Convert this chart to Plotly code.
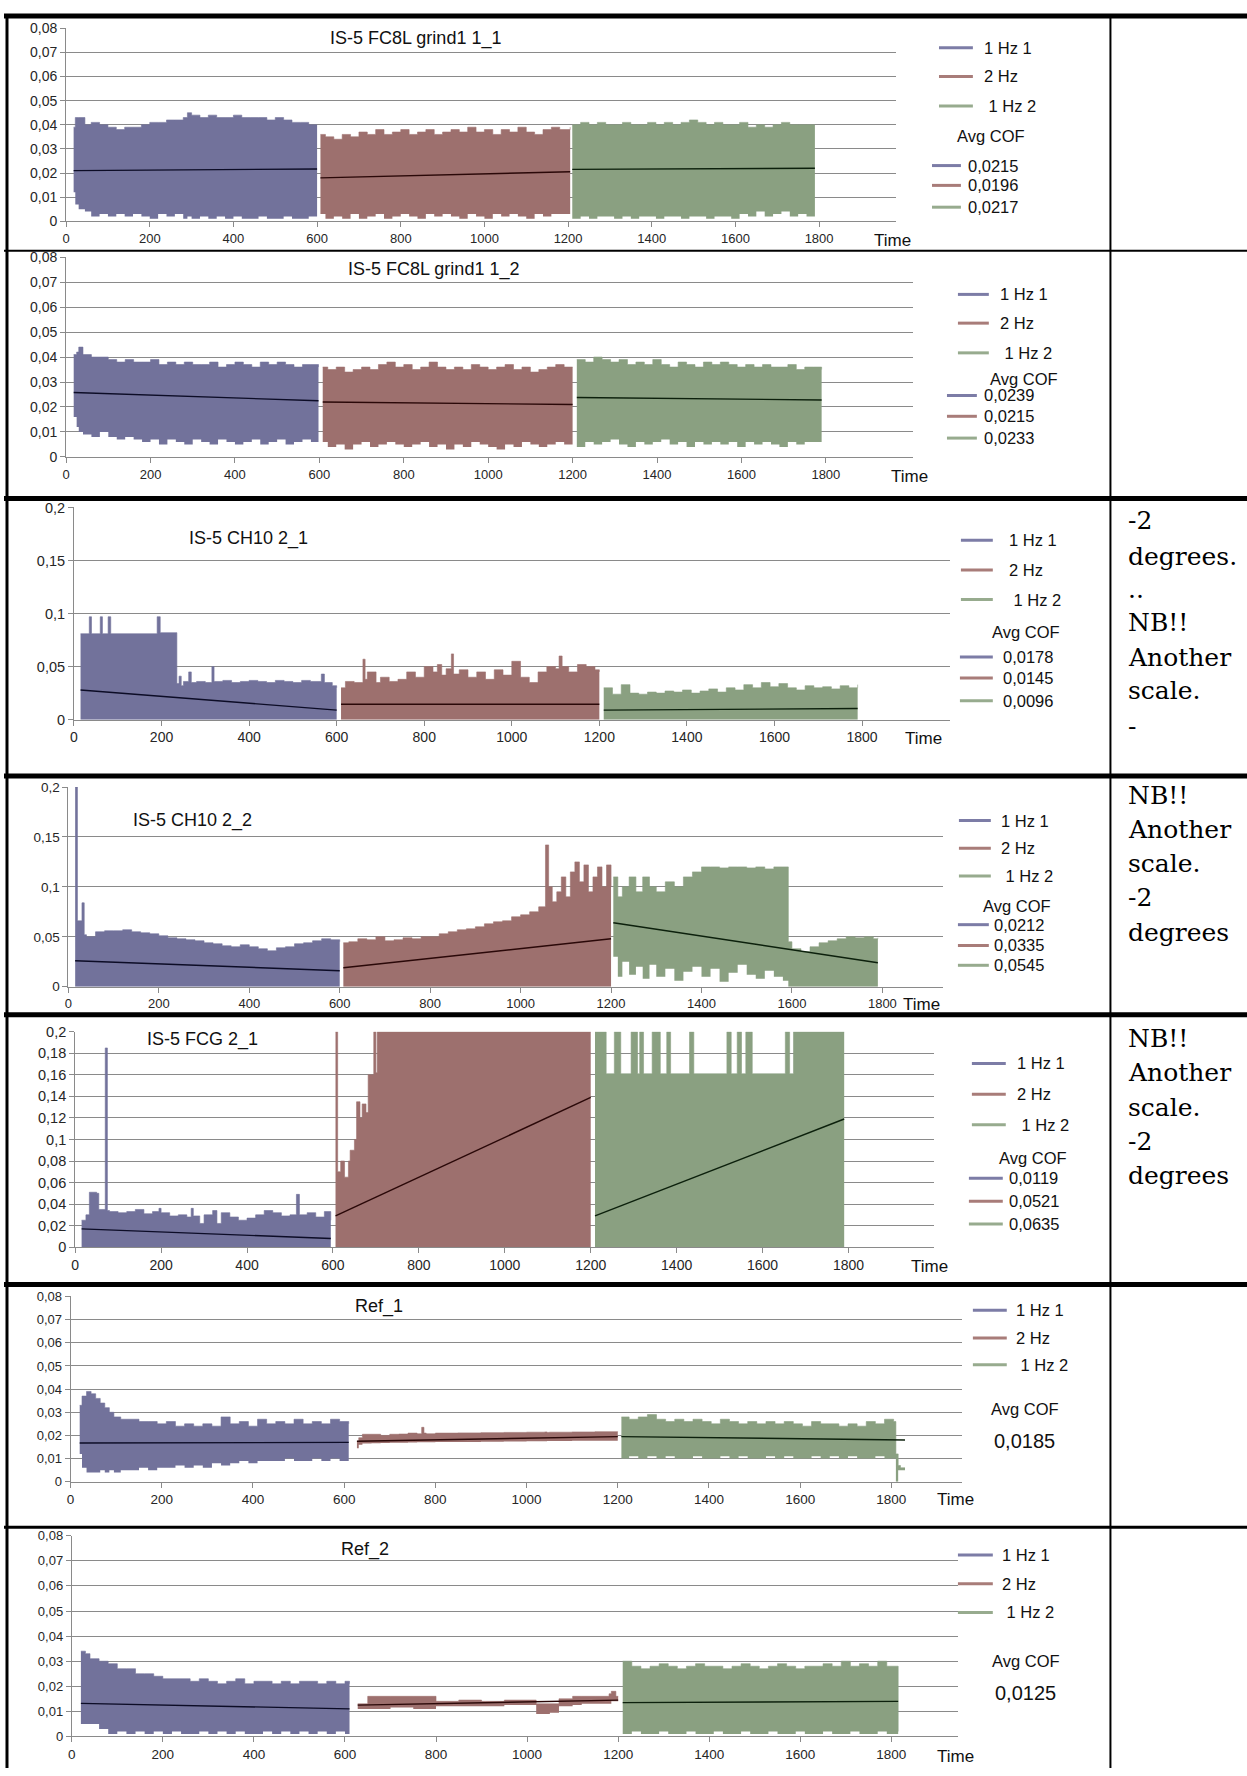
import plotly.graph_objects as go

W, H = 1247, 1776

# ------------------------------------------------------------------ data
X_TICKS = [0, 200, 400, 600, 800, 1000, 1200, 1400, 1600, 1800]
X_TEXT = ["0", "200", "400", "600", "800", "1000", "1200", "1400", "1600", "1800"]
Y08_TICKS = [0, 0.01, 0.02, 0.03, 0.04, 0.05, 0.06, 0.07, 0.08]
Y08_TEXT = ["0", "0,01", "0,02", "0,03", "0,04", "0,05", "0,06", "0,07", "0,08"]
Y20A_TICKS = [0, 0.05, 0.1, 0.15, 0.2]
Y20A_TEXT = ["0", "0,05", "0,1", "0,15", "0,2"]
Y20B_TICKS = [0, 0.02, 0.04, 0.06, 0.08, 0.1, 0.12, 0.14, 0.16, 0.18, 0.2]
Y20B_TEXT = ["0", "0,02", "0,04", "0,06", "0,08", "0,1", "0,12", "0,14", "0,16", "0,18", "0,2"]

SERIES_NAMES = ["1 Hz 1", "2 Hz", " 1 Hz 2"]
TITLES = ["IS-5 FC8L grind1 1_1", "IS-5 FC8L grind1 1_2", "IS-5 CH10 2_1",
          "IS-5 CH10 2_2", "IS-5 FCG 2_1", "Ref_1", "Ref_2"]
AVG_COF = [["0,0215", "0,0196", "0,0217"], ["0,0239", "0,0215", "0,0233"],
           ["0,0178", "0,0145", "0,0096"], ["0,0212", "0,0335", "0,0545"],
           ["0,0119", "0,0521", "0,0635"], ["0,0185"], ["0,0125"]]

# ---- Panel 1: IS-5 FC8L grind1 1_1
P1_B_T = [18, 22, 30, 45, 60, 80, 100, 120, 140, 160, 180, 200, 220, 240, 260, 280, 290, 300, 320, 340,
          360, 380, 400, 420, 440, 460, 480, 500, 520, 540, 560, 580, 600]
P1_B_HI = [0.039, 0.043, 0.043, 0.040, 0.041, 0.040, 0.039, 0.038, 0.039, 0.039, 0.040, 0.041, 0.041, 0.042,
           0.042, 0.043, 0.045, 0.044, 0.043, 0.044, 0.043, 0.043, 0.044, 0.043, 0.043, 0.043, 0.042, 0.043,
           0.042, 0.041, 0.041, 0.040, 0.040]
P1_B_LO = [0.012, 0.007, 0.005, 0.004, 0.002, 0.003, 0.002, 0.003, 0.002, 0.003, 0.002, 0.001, 0.003, 0.002,
           0.003, 0.001, 0.002, 0.001, 0.002, 0.001, 0.002, 0.001, 0.002, 0.001, 0.001, 0.002, 0.001, 0.001,
           0.002, 0.001, 0.001, 0.002, 0.001]
P1_R_T = [608, 620, 640, 660, 680, 700, 720, 740, 760, 780, 800, 820, 840, 860, 880, 900, 920, 940, 960, 980,
          1000, 1020, 1040, 1060, 1080, 1100, 1120, 1140, 1160, 1180, 1205]
P1_R_HI = [0.036, 0.035, 0.034, 0.036, 0.035, 0.037, 0.036, 0.038, 0.036, 0.037, 0.038, 0.036, 0.037, 0.038,
           0.036, 0.037, 0.038, 0.037, 0.039, 0.037, 0.038, 0.036, 0.038, 0.037, 0.039, 0.037, 0.036, 0.038,
           0.039, 0.038, 0.039]
P1_R_LO = [0.003, 0.001, 0.002, 0.001, 0.003, 0.001, 0.002, 0.003, 0.001, 0.002, 0.003, 0.002, 0.001, 0.003,
           0.002, 0.003, 0.002, 0.001, 0.003, 0.002, 0.001, 0.003, 0.002, 0.003, 0.002, 0.001, 0.003, 0.002,
           0.003, 0.003, 0.003]
P1_G_T = [1210, 1230, 1250, 1270, 1290, 1310, 1330, 1350, 1370, 1390, 1410, 1430, 1450, 1470, 1490, 1510,
          1530, 1550, 1570, 1590, 1610, 1630, 1650, 1670, 1690, 1710, 1730, 1750, 1770, 1790]
P1_G_HI = [0.040, 0.041, 0.040, 0.041, 0.040, 0.040, 0.041, 0.040, 0.040, 0.041, 0.040, 0.041, 0.040, 0.041,
           0.042, 0.041, 0.040, 0.041, 0.040, 0.040, 0.041, 0.039, 0.040, 0.039, 0.040, 0.041, 0.040, 0.040,
           0.040, 0.040]
P1_G_LO = [0.001, 0.002, 0.001, 0.002, 0.002, 0.001, 0.002, 0.001, 0.002, 0.002, 0.001, 0.002, 0.002, 0.001,
           0.002, 0.002, 0.001, 0.002, 0.002, 0.001, 0.003, 0.002, 0.004, 0.002, 0.003, 0.004, 0.002, 0.003,
           0.002, 0.002]
P1_TREND_START = [0.0210, 0.0180, 0.0215]
P1_TREND_END = [0.0217, 0.0205, 0.0220]

# ---- Panel 2: IS-5 FC8L grind1 1_2
P2_B_T = [18, 25, 30, 40, 60, 80, 100, 120, 140, 160, 180, 200, 220, 240, 260, 280, 300, 320, 340, 360,
          380, 400, 420, 440, 460, 480, 500, 520, 540, 560, 580, 598]
P2_B_HI = [0.041, 0.042, 0.044, 0.041, 0.040, 0.040, 0.039, 0.038, 0.039, 0.038, 0.038, 0.039, 0.037, 0.038,
           0.037, 0.038, 0.037, 0.037, 0.038, 0.036, 0.037, 0.038, 0.037, 0.036, 0.038, 0.037, 0.038, 0.037,
           0.036, 0.037, 0.037, 0.036]
P2_B_LO = [0.016, 0.012, 0.010, 0.009, 0.008, 0.010, 0.008, 0.007, 0.008, 0.007, 0.006, 0.007, 0.005, 0.007,
           0.006, 0.005, 0.007, 0.006, 0.005, 0.007, 0.006, 0.005, 0.006, 0.007, 0.005, 0.006, 0.007, 0.005,
           0.006, 0.007, 0.006, 0.006]
P2_R_T = [608, 620, 640, 660, 680, 700, 720, 740, 760, 780, 800, 820, 840, 860, 880, 900, 920, 940, 960, 980,
          1000, 1020, 1040, 1060, 1080, 1100, 1120, 1140, 1160, 1180, 1200]
P2_R_HI = [0.036, 0.035, 0.036, 0.034, 0.035, 0.036, 0.035, 0.037, 0.038, 0.036, 0.037, 0.035, 0.036, 0.038,
           0.036, 0.035, 0.036, 0.035, 0.037, 0.036, 0.035, 0.036, 0.037, 0.035, 0.036, 0.034, 0.035, 0.036,
           0.037, 0.036, 0.036]
P2_R_LO = [0.006, 0.004, 0.005, 0.003, 0.005, 0.006, 0.004, 0.005, 0.006, 0.005, 0.004, 0.005, 0.006, 0.004,
           0.005, 0.003, 0.005, 0.004, 0.006, 0.005, 0.004, 0.003, 0.005, 0.004, 0.006, 0.005, 0.004, 0.005,
           0.006, 0.005, 0.004]
P2_G_T = [1210, 1230, 1250, 1270, 1290, 1310, 1330, 1350, 1370, 1390, 1410, 1430, 1450, 1470, 1490, 1510,
          1530, 1550, 1570, 1590, 1610, 1630, 1650, 1670, 1690, 1710, 1730, 1750, 1770, 1790]
P2_G_HI = [0.039, 0.038, 0.040, 0.039, 0.038, 0.039, 0.037, 0.038, 0.037, 0.039, 0.037, 0.036, 0.038, 0.037,
           0.036, 0.038, 0.037, 0.038, 0.037, 0.036, 0.037, 0.036, 0.037, 0.036, 0.036, 0.037, 0.035, 0.036,
           0.036, 0.035]
P2_G_LO = [0.004, 0.006, 0.005, 0.006, 0.007, 0.005, 0.004, 0.006, 0.005, 0.006, 0.007, 0.005, 0.006, 0.004,
           0.006, 0.005, 0.006, 0.005, 0.006, 0.004, 0.006, 0.005, 0.006, 0.005, 0.004, 0.006, 0.005, 0.006,
           0.006, 0.006]
P2_TREND_START = [0.0258, 0.0220, 0.0238]
P2_TREND_END = [0.0225, 0.0210, 0.0228]

# ---- Panel 3: IS-5 CH10 2_1 (bands reach zero)
P3_B_T = [15, 35, 40, 60, 65, 78, 84, 190, 197, 235, 240, 245, 250, 262, 268, 280, 300, 315, 320, 340,
          360, 380, 400, 420, 440, 460, 480, 500, 520, 540, 565, 572, 590, 600]
P3_B_HI = [0.081, 0.097, 0.081, 0.097, 0.081, 0.097, 0.081, 0.097, 0.082, 0.034, 0.041, 0.032, 0.036, 0.045,
           0.035, 0.036, 0.035, 0.050, 0.036, 0.037, 0.035, 0.036, 0.037, 0.036, 0.035, 0.037, 0.036, 0.035,
           0.037, 0.036, 0.043, 0.035, 0.032, 0.030]
P3_R_T = [610, 620, 640, 660, 665, 670, 690, 700, 720, 740, 760, 780, 800, 820, 830, 840, 850, 862, 867, 880,
          900, 920, 940, 960, 980, 1000, 1020, 1040, 1060, 1080, 1100, 1108, 1115, 1130, 1150, 1170, 1190, 1200]
P3_R_HI = [0.030, 0.036, 0.035, 0.057, 0.038, 0.045, 0.035, 0.040, 0.036, 0.038, 0.045, 0.040, 0.050, 0.045,
           0.052, 0.042, 0.048, 0.062, 0.043, 0.047, 0.040, 0.045, 0.038, 0.047, 0.042, 0.055, 0.040, 0.035,
           0.045, 0.050, 0.048, 0.060, 0.050, 0.045, 0.052, 0.050, 0.047, 0.045]
P3_G_T = [1210, 1230, 1250, 1270, 1290, 1310, 1330, 1350, 1370, 1390, 1410, 1430, 1450, 1470, 1490, 1510,
          1530, 1550, 1570, 1590, 1610, 1630, 1650, 1670, 1690, 1710, 1730, 1750, 1770, 1790]
P3_G_HI = [0.030, 0.024, 0.033, 0.025, 0.024, 0.026, 0.025, 0.027, 0.026, 0.028, 0.025, 0.027, 0.029, 0.026,
           0.030, 0.028, 0.033, 0.030, 0.035, 0.031, 0.034, 0.030, 0.028, 0.032, 0.030, 0.031, 0.029, 0.032,
           0.030, 0.033]
P3_TREND_START = [0.0280, 0.0145, 0.0090]
P3_TREND_END = [0.0090, 0.0145, 0.0105]

# ---- Panel 4: IS-5 CH10 2_2
P4_B_T = [15, 20, 30, 35, 40, 60, 80, 100, 120, 140, 160, 180, 200, 220, 240, 260, 280, 300, 320, 340,
          360, 380, 400, 420, 440, 460, 480, 500, 520, 540, 560, 580, 600]
P4_B_HI = [0.200, 0.066, 0.084, 0.052, 0.050, 0.055, 0.056, 0.056, 0.057, 0.055, 0.054, 0.053, 0.051, 0.049,
           0.048, 0.047, 0.046, 0.044, 0.043, 0.041, 0.040, 0.042, 0.040, 0.038, 0.036, 0.039, 0.040, 0.043,
           0.044, 0.046, 0.048, 0.047, 0.045]
P4_R_T = [608, 620, 640, 660, 680, 700, 720, 740, 760, 780, 800, 820, 840, 860, 880, 900, 920, 940, 960, 980,
          1000, 1020, 1040, 1055, 1062, 1070, 1080, 1090, 1100, 1110, 1120, 1130, 1140, 1150, 1160, 1170,
          1180, 1190, 1200]
P4_R_HI = [0.044, 0.045, 0.048, 0.047, 0.050, 0.046, 0.047, 0.049, 0.048, 0.050, 0.050, 0.053, 0.055, 0.057,
           0.058, 0.060, 0.063, 0.065, 0.066, 0.070, 0.072, 0.075, 0.080, 0.142, 0.100, 0.085, 0.095, 0.110,
           0.090, 0.115, 0.125, 0.105, 0.122, 0.095, 0.110, 0.120, 0.100, 0.122, 0.100]
P4_G_T = [1205, 1215, 1225, 1240, 1255, 1270, 1285, 1300, 1320, 1340, 1360, 1380, 1400, 1420, 1440, 1460,
          1480, 1500, 1520, 1540, 1560, 1580, 1592, 1600, 1620, 1640, 1660, 1680, 1700, 1720, 1740, 1760,
          1780, 1790]
P4_G_HI = [0.110, 0.090, 0.100, 0.110, 0.095, 0.110, 0.100, 0.095, 0.105, 0.100, 0.110, 0.115, 0.120, 0.120,
           0.119, 0.120, 0.120, 0.119, 0.120, 0.118, 0.120, 0.120, 0.045, 0.038, 0.035, 0.040, 0.044, 0.046,
           0.048, 0.050, 0.049, 0.050, 0.048, 0.049]
P4_G_LO = [0.030, 0.010, 0.025, 0.012, 0.020, 0.008, 0.022, 0.010, 0.018, 0.006, 0.015, 0.020, 0.010, 0.018,
           0.005, 0.014, 0.022, 0.012, 0.008, 0.016, 0.010, 0.006, 0.0, 0.0, 0.0, 0.0, 0.0, 0.0,
           0.0, 0.0, 0.0, 0.0, 0.0, 0.0]
P4_TREND_START = [0.0260, 0.0190, 0.0640]
P4_TREND_END = [0.0160, 0.0480, 0.0240]

# ---- Panel 5: IS-5 FCG 2_1
P5_B_T = [15, 25, 33, 50, 55, 70, 75, 80, 100, 120, 140, 160, 180, 195, 200, 220, 240, 260, 270, 275,
          290, 300, 320, 330, 340, 360, 380, 400, 420, 440, 460, 480, 500, 515, 522, 540, 560, 580, 595]
P5_B_HI = [0.025, 0.030, 0.051, 0.050, 0.035, 0.185, 0.034, 0.033, 0.032, 0.033, 0.035, 0.031, 0.033, 0.036,
           0.032, 0.029, 0.030, 0.028, 0.036, 0.029, 0.022, 0.030, 0.034, 0.022, 0.032, 0.028, 0.025, 0.027,
           0.030, 0.034, 0.032, 0.029, 0.030, 0.049, 0.030, 0.032, 0.028, 0.033, 0.025]
P5_R_T = [606, 611, 618, 627, 636, 640, 650, 655, 663, 668, 677, 682, 695, 700, 703, 1200]
P5_R_HI = [0.200, 0.070, 0.080, 0.065, 0.080, 0.090, 0.100, 0.135, 0.120, 0.133, 0.125, 0.160, 0.200, 0.162,
           0.200, 0.200]
P5_G_T = [1210, 1216, 1236, 1255, 1270, 1294, 1309, 1314, 1323, 1343, 1362, 1377, 1386, 1430, 1440, 1517,
          1527, 1541, 1551, 1561, 1576, 1653, 1663, 1672, 1790]
P5_G_HI = [0.200, 0.200, 0.161, 0.200, 0.161, 0.200, 0.161, 0.200, 0.161, 0.200, 0.161, 0.200, 0.161, 0.200,
           0.161, 0.200, 0.161, 0.200, 0.161, 0.200, 0.161, 0.200, 0.161, 0.200, 0.200]
P5_TREND_START = [0.0170, 0.0290, 0.0290]
P5_TREND_END = [0.0080, 0.1390, 0.1190]

# ---- Panel 6: Ref_1
P6_B_T = [20, 25, 35, 45, 55, 65, 75, 85, 95, 110, 130, 150, 170, 190, 210, 230, 250, 270, 290, 310,
          330, 350, 370, 390, 410, 430, 450, 470, 490, 510, 530, 550, 570, 590, 610]
P6_B_HI = [0.033, 0.037, 0.039, 0.038, 0.036, 0.034, 0.032, 0.030, 0.028, 0.027, 0.027, 0.026, 0.026, 0.025,
           0.026, 0.024, 0.025, 0.024, 0.025, 0.024, 0.028, 0.025, 0.026, 0.024, 0.027, 0.025, 0.026, 0.025,
           0.027, 0.025, 0.026, 0.025, 0.027, 0.026, 0.025]
P6_B_LO = [0.012, 0.006, 0.004, 0.004, 0.004, 0.005, 0.004, 0.005, 0.004, 0.005, 0.005, 0.006, 0.005, 0.006,
           0.006, 0.007, 0.006, 0.007, 0.006, 0.008, 0.007, 0.008, 0.009, 0.008, 0.009, 0.009, 0.009, 0.010,
           0.009, 0.009, 0.010, 0.009, 0.010, 0.009, 0.010]
P6_R_T = [628, 632, 640, 660, 680, 700, 720, 740, 760, 770, 775, 780, 800, 850, 900, 950, 1000, 1040, 1045,
          1050, 1100, 1150, 1200]
P6_R_HI = [0.0175, 0.0190, 0.0205, 0.0205, 0.0200, 0.0205, 0.0206, 0.0210, 0.0207, 0.0235, 0.0210, 0.0207,
           0.0210, 0.0211, 0.0212, 0.0213, 0.0214, 0.0215, 0.0213, 0.0214, 0.0215, 0.0216, 0.0217]
P6_R_LO = [0.0145, 0.0160, 0.0165, 0.0166, 0.0167, 0.0168, 0.0168, 0.0169, 0.0170, 0.0170, 0.0170, 0.0171,
           0.0172, 0.0172, 0.0173, 0.0174, 0.0175, 0.0175, 0.0176, 0.0176, 0.0177, 0.0177, 0.0178]
P6_G_T = [1208, 1225, 1245, 1265, 1285, 1305, 1325, 1345, 1365, 1385, 1405, 1425, 1445, 1465, 1485, 1505,
          1525, 1545, 1565, 1585, 1605, 1625, 1645, 1665, 1685, 1705, 1725, 1745, 1765, 1785, 1805, 1810,
          1815, 1820, 1830]
P6_G_HI = [0.028, 0.027, 0.028, 0.029, 0.027, 0.026, 0.027, 0.026, 0.027, 0.026, 0.025, 0.027, 0.026, 0.025,
           0.026, 0.025, 0.026, 0.025, 0.026, 0.025, 0.024, 0.026, 0.025, 0.025, 0.024, 0.025, 0.024, 0.026,
           0.025, 0.027, 0.026, 0.012, 0.007, 0.006, 0.006]
P6_G_LO = [0.010, 0.011, 0.010, 0.011, 0.010, 0.011, 0.010, 0.010, 0.011, 0.010, 0.010, 0.011, 0.010, 0.011,
           0.010, 0.010, 0.011, 0.010, 0.011, 0.010, 0.010, 0.011, 0.010, 0.011, 0.010, 0.011, 0.010, 0.010,
           0.011, 0.010, 0.010, 0.000, 0.005, 0.005, 0.005]
P6_TREND_START = [0.0167, 0.0175, 0.0195]
P6_TREND_END = [0.0170, 0.0195, 0.0180]

# ---- Panel 7: Ref_2
P7_B_T = [20, 30, 40, 60, 80, 100, 120, 140, 160, 180, 200, 220, 240, 260, 280, 300, 320, 340, 360, 380,
          400, 420, 440, 460, 480, 500, 520, 540, 560, 580, 600, 610]
P7_B_HI = [0.034, 0.033, 0.031, 0.030, 0.029, 0.027, 0.027, 0.025, 0.025, 0.024, 0.023, 0.023, 0.023, 0.022,
           0.023, 0.022, 0.021, 0.022, 0.023, 0.021, 0.022, 0.022, 0.021, 0.022, 0.021, 0.022, 0.022, 0.021,
           0.022, 0.021, 0.022, 0.021]
P7_B_LO = [0.005, 0.005, 0.005, 0.003, 0.001, 0.002, 0.001, 0.002, 0.001, 0.002, 0.001, 0.002, 0.001, 0.001,
           0.002, 0.001, 0.002, 0.001, 0.002, 0.001, 0.001, 0.002, 0.001, 0.002, 0.001, 0.002, 0.001, 0.002,
           0.001, 0.002, 0.001, 0.002]
P7_R_T = [628, 650, 700, 750, 800, 850, 900, 950, 1000, 1020, 1050, 1070, 1100, 1120, 1150, 1180, 1185,
          1195, 1200]
P7_R_HI = [0.0130, 0.0160, 0.0160, 0.0160, 0.0140, 0.0145, 0.0140, 0.0145, 0.0145, 0.0130, 0.0130, 0.0150,
           0.0160, 0.0160, 0.0160, 0.0170, 0.0180, 0.0160, 0.0160]
P7_R_LO = [0.0110, 0.0110, 0.0115, 0.0110, 0.0120, 0.0120, 0.0120, 0.0125, 0.0125, 0.0090, 0.0095, 0.0120,
           0.0125, 0.0130, 0.0130, 0.0130, 0.0140, 0.0140, 0.0140]
P7_G_T = [1210, 1230, 1250, 1270, 1290, 1310, 1330, 1350, 1370, 1390, 1410, 1430, 1450, 1470, 1490, 1510,
          1530, 1550, 1570, 1590, 1610, 1630, 1650, 1670, 1690, 1710, 1730, 1750, 1770, 1790, 1810, 1815]
P7_G_HI = [0.030, 0.028, 0.027, 0.028, 0.029, 0.028, 0.027, 0.028, 0.029, 0.028, 0.028, 0.027, 0.028, 0.029,
           0.028, 0.027, 0.028, 0.029, 0.028, 0.027, 0.028, 0.028, 0.029, 0.028, 0.030, 0.028, 0.029, 0.028,
           0.030, 0.028, 0.028, 0.002]
P7_G_LO = [0.001, 0.002, 0.001, 0.001, 0.002, 0.001, 0.001, 0.002, 0.001, 0.001, 0.002, 0.001, 0.001, 0.002,
           0.001, 0.001, 0.002, 0.001, 0.001, 0.002, 0.001, 0.001, 0.002, 0.001, 0.001, 0.002, 0.001, 0.001,
           0.002, 0.001, 0.001, 0.001]
P7_TREND_START = [0.0132, 0.0125, 0.0135]
P7_TREND_END = [0.0110, 0.0145, 0.0140]

NOTES_P3 = ["-2", "degrees.", "..", "NB!!", "Another", "scale.", "-"]
NOTES_P4 = ["NB!!", "Another", "scale.", "-2", "degrees"]
NOTES_P5 = ["NB!!", "Another", "scale.", "-2", "degrees"]

# ------------------------------------------------------------------ styling / geometry
FILL = ["#72729b", "#9d706e", "#8aa081"]
LEG = ["#7c7ca6", "#a87c79", "#97ab8e"]
TREND = ["#0c0c26", "#2a0808", "#0c200c"]
GRID = "#8a8a8a"
FONT = "Liberation Sans, Arial, sans-serif"
NARROW = "Liberation Sans Narrow, Liberation Sans, Arial, sans-serif"

panels = [
    dict(segs=[(P1_B_T, P1_B_HI, P1_B_LO), (P1_R_T, P1_R_HI, P1_R_LO), (P1_G_T, P1_G_HI, P1_G_LO)],
         ts=P1_TREND_START, te=P1_TREND_END, yt=(Y08_TICKS, Y08_TEXT),
         geo=(62.3, 0.41967, 1985, 215.2, 20.4, 0.08), font=FONT, yfs=14, xfs=13),
    dict(segs=[(P2_B_T, P2_B_HI, P2_B_LO), (P2_R_T, P2_R_HI, P2_R_LO), (P2_G_T, P2_G_HI, P2_G_LO)],
         ts=P2_TREND_START, te=P2_TREND_END, yt=(Y08_TICKS, Y08_TEXT),
         geo=(62.3, 0.42344, 2006, 453.0, 251.4, 0.08), font=FONT, yfs=14, xfs=13),
    dict(segs=[(P3_B_T, P3_B_HI, None), (P3_R_T, P3_R_HI, None), (P3_G_T, P3_G_HI, None)],
         ts=P3_TREND_START, te=P3_TREND_END, yt=(Y20A_TICKS, Y20A_TEXT),
         geo=(70.2, 0.43922, 2001, 718.1, 504.0, 0.2), font=FONT, yfs=14.5, xfs=14),
    dict(segs=[(P4_B_T, P4_B_HI, None), (P4_R_T, P4_R_HI, None), (P4_G_T, P4_G_HI, P4_G_LO)],
         ts=P4_TREND_START, te=P4_TREND_END, yt=(Y20A_TICKS, Y20A_TEXT),
         geo=(64.6, 0.45367, 1935, 987.6, 786.0, 0.2), font=FONT, yfs=13.5, xfs=13),
    dict(segs=[(P5_B_T, P5_B_HI, None), (P5_R_T, P5_R_HI, None), (P5_G_T, P5_G_HI, None)],
         ts=P5_TREND_START, te=P5_TREND_END, yt=(Y20B_TICKS, Y20B_TEXT),
         geo=(71.4, 0.43100, 2000, 1250.4, 1033.0, 0.2), font=FONT, yfs=14.5, xfs=14),
    dict(segs=[(P6_B_T, P6_B_HI, P6_B_LO), (P6_R_T, P6_R_HI, P6_R_LO), (P6_G_T, P6_G_HI, P6_G_LO)],
         ts=P6_TREND_START, te=P6_TREND_END, yt=(Y08_TICKS, Y08_TEXT),
         geo=(66.8, 0.45744, 1954, 1487.1, 1300.2, 0.08), font=NARROW, yfs=13, xfs=13.5),
    dict(segs=[(P7_B_T, P7_B_HI, P7_B_LO), (P7_R_T, P7_R_HI, P7_R_LO), (P7_G_T, P7_G_HI, P7_G_LO)],
         ts=P7_TREND_START, te=P7_TREND_END, yt=(Y08_TICKS, Y08_TEXT),
         geo=(68.0, 0.45678, 1946, 1744.2, 1541.5, 0.08), font=NARROW, yfs=13, xfs=13.5),
]

# pixel positions of annotations (title, Time label, legend block)
TITLE_POS = [(413, 31), (431, 264), (245, 535), (189, 820), (199, 1041), (376, 1310), (362, 1556)]
TIME_POS = [(891, 235), (908, 473), (922, 737), (920, 1006), (928, 1270), (955, 1505), (955, 1764)]
LEG_POS = [
    dict(lx=(938, 972), tx=981, ys=(40, 69, 99), ax=990, ay=129, vx=(931, 960), vtx=965, vys=(159, 179, 201)),
    dict(lx=(957, 988), tx=997, ys=(289, 318, 348), ax=1023, ay=374, vx=(946, 976), vtx=981, vys=(391, 412, 434)),
    dict(lx=(960, 992), tx=1006, ys=(537, 567, 597), ax=1025, ay=630, vx=(959, 992), vtx=1000, vys=(655, 676, 699)),
    dict(lx=(958, 990), tx=998, ys=(820, 848, 876), ax=1016, ay=906, vx=(957, 988), vtx=991, vys=(925, 946, 966)),
    dict(lx=(971, 1005), tx=1014, ys=(1065, 1096, 1127), ax=1032, ay=1160, vx=(968, 1002), vtx=1006, vys=(1181, 1204, 1227)),
    dict(lx=(972, 1006), tx=1013, ys=(1314, 1342, 1369), ax=1024, ay=1414, vx=None, vtx=1024, vys=(1446,)),
    dict(lx=(957, 992), tx=999, ys=(1561, 1590, 1619), ax=1025, ay=1668, vx=None, vtx=1025, vys=(1700,)),
]
NOTE_X = 1126
NOTE_Y = [None, None, [517, 553, 587, 620, 655, 689, 725], [795, 829, 863, 898, 933],
          [1040, 1074, 1109, 1144, 1178], None, None]
NOTES = [None, None, NOTES_P3, NOTES_P4, NOTES_P5, None, None]


def px(x):
    return x / W


def py(y):
    return 1 - y / H


fig = go.Figure()
layout_axes = {}
annotations = []
shapes = []

for i, p in enumerate(panels):
    n = "" if i == 0 else str(i + 1)
    xa, ya = "x" + n, "y" + n
    x0, sc, xmax, y0, ytop, ymax = p["geo"]
    for k, (t, hi, lo) in enumerate(p["segs"]):
        if lo is not None:
            fig.add_trace(go.Scatter(x=t, y=lo, mode="lines", line=dict(width=0, shape="hv", color=FILL[k]),
                                     hoverinfo="skip", showlegend=False, xaxis=xa, yaxis=ya))
            fig.add_trace(go.Scatter(x=t, y=hi, mode="lines", line=dict(width=0.6, shape="hv", color=FILL[k]),
                                     fill="tonexty", fillcolor=FILL[k], hoverinfo="skip", showlegend=False,
                                     xaxis=xa, yaxis=ya))
        else:
            fig.add_trace(go.Scatter(x=t, y=hi, mode="lines", line=dict(width=0.6, shape="hv", color=FILL[k]),
                                     fill="tozeroy", fillcolor=FILL[k], hoverinfo="skip", showlegend=False,
                                     xaxis=xa, yaxis=ya))
    for k, (t, hi, lo) in enumerate(p["segs"]):
        fig.add_trace(go.Scatter(x=[t[0], t[-1]], y=[p["ts"][k], p["te"][k]], mode="lines",
                                 line=dict(width=1.4, color=TREND[k]), hoverinfo="skip", showlegend=False,
                                 xaxis=xa, yaxis=ya))

    layout_axes["xaxis" + n] = dict(
        domain=[px(x0), px(x0 + xmax * sc)], range=[0, xmax], anchor=ya,
        tickvals=X_TICKS, ticktext=X_TEXT, ticks="outside", ticklen=5, tickcolor=GRID,
        showline=True, linecolor=GRID, linewidth=1, showgrid=False, zeroline=False,
        tickfont=dict(family=p["font"], size=p["xfs"], color="#262626"), fixedrange=True)
    layout_axes["yaxis" + n] = dict(
        domain=[py(y0), py(ytop)], range=[0, ymax * 1.0005], anchor=xa,
        tickvals=p["yt"][0], ticktext=p["yt"][1], ticks="outside", ticklen=5, tickcolor=GRID,
        showline=True, linecolor=GRID, linewidth=1, showgrid=True, gridcolor=GRID, gridwidth=1,
        zeroline=False, tickfont=dict(family=p["font"], size=p["yfs"], color="#262626"), fixedrange=True)

    f = p["font"]
    annotations.append(dict(text=TITLES[i], x=px(TITLE_POS[i][0]), y=py(TITLE_POS[i][1]), xref="paper",
                            yref="paper", showarrow=False, xanchor="center", yanchor="middle",
                            font=dict(family=f, size=18, color="#111")))
    annotations.append(dict(text="Time", x=px(TIME_POS[i][0]), y=py(TIME_POS[i][1]), xref="paper",
                            yref="paper", showarrow=False, xanchor="center", yanchor="middle",
                            font=dict(family=f, size=17, color="#111")))
    lp = LEG_POS[i]
    for k in range(3):
        shapes.append(dict(type="line", xref="paper", yref="paper", x0=px(lp["lx"][0]), x1=px(lp["lx"][1]),
                           y0=py(lp["ys"][k]), y1=py(lp["ys"][k]), line=dict(color=LEG[k], width=3)))
        annotations.append(dict(text=SERIES_NAMES[k], x=px(lp["tx"]), y=py(lp["ys"][k]), xref="paper",
                                yref="paper", showarrow=False, xanchor="left", yanchor="middle",
                                font=dict(family=f, size=16.5, color="#111")))
    annotations.append(dict(text="Avg COF", x=px(lp["ax"]), y=py(lp["ay"]), xref="paper", yref="paper",
                            showarrow=False, xanchor="center", yanchor="middle",
                            font=dict(family=f, size=16.5, color="#111")))
    vals = AVG_COF[i]
    for k, v in enumerate(vals):
        if lp["vx"] is not None:
            shapes.append(dict(type="line", xref="paper", yref="paper", x0=px(lp["vx"][0]), x1=px(lp["vx"][1]),
                               y0=py(lp["vys"][k]), y1=py(lp["vys"][k]), line=dict(color=LEG[k], width=3)))
            annotations.append(dict(text=v, x=px(lp["vtx"]), y=py(lp["vys"][k]), xref="paper", yref="paper",
                                    showarrow=False, xanchor="left", yanchor="middle",
                                    font=dict(family=f, size=16.5, color="#111")))
        else:
            annotations.append(dict(text=v, x=px(lp["vtx"]), y=py(lp["vys"][k]), xref="paper", yref="paper",
                                    showarrow=False, xanchor="center", yanchor="middle",
                                    font=dict(family=f, size=20, color="#111")))
    if NOTES[i]:
        for txt, yy in zip(NOTES[i], NOTE_Y[i]):
            annotations.append(dict(text=txt, x=px(NOTE_X), y=py(yy), xref="paper", yref="paper",
                                    showarrow=False, xanchor="left", yanchor="middle",
                                    font=dict(family="DejaVu Serif, Liberation Serif, serif", size=25,
                                              color="#000")))


# table borders
def hline(y, w, x0=0, x1=W):
    shapes.append(dict(type="line", xref="paper", yref="paper", x0=px(x0), x1=px(x1), y0=py(y), y1=py(y),
                       line=dict(color="#000", width=w)))


def vline(x, w, y0=0, y1=H):
    shapes.append(dict(type="line", xref="paper", yref="paper", x0=px(x), x1=px(x), y0=py(y0), y1=py(y1),
                       line=dict(color="#000", width=w)))


hline(8, 5)
hline(245, 2)
hline(495, 5)
hline(775, 5)
hline(1016, 5)
hline(1288, 5)
hline(1533, 3)
vline(3, 3, 8, H)
vline(1110, 2, 8, H)

fig.update_layout(
    width=W, height=H, autosize=False,
    margin=dict(l=0, r=0, t=0, b=0),
    paper_bgcolor="white", plot_bgcolor="rgba(0,0,0,0)",
    showlegend=False, annotations=annotations, shapes=shapes,
    font=dict(family=FONT, color="#111"),
    **layout_axes,
)

fig.write_html("out.html", include_plotlyjs=True, config={"displayModeBar": False, "staticPlot": True},
               post_script="document.body.style.margin='0';document.body.style.padding='0';")
